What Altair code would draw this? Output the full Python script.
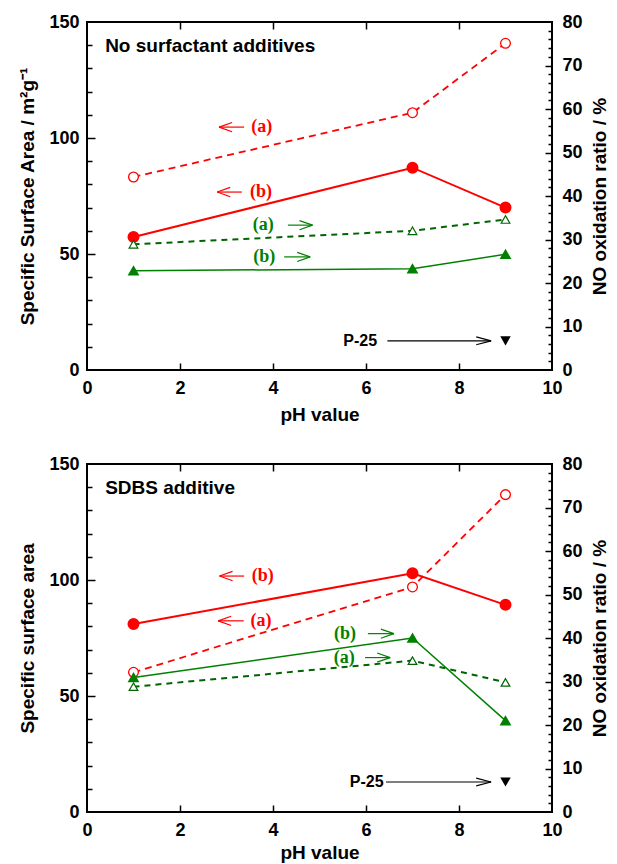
import altair as alt
import pandas as pd

# ---------------- data ----------------
ph = [1, 7, 9]

top_a_ssa = [83.2, 110.9, 140.8]
top_b_ssa = [57.3, 87.2, 70.0]
top_a_no = [28.9, 32.0, 34.6]
top_b_no = [22.8, 23.3, 26.6]
top_p25 = 6.7

bot_a_ssa = [60.2, 97.0, 136.8]
bot_b_ssa = [81.0, 102.9, 89.3]
bot_a_no = [28.8, 34.8, 29.8]
bot_b_no = [30.9, 40.0, 21.0]
bot_p25 = 6.9

x_ticks = [0, 2, 4, 6, 8, 10]
left_ticks = [0, 50, 100, 150]
right_ticks = [0, 10, 20, 30, 40, 50, 60, 70, 80]

# annotation positions (label, x, y)
top_red_notes = [("(a)", 3.76, 104.7), ("(b)", 3.74, 76.7)]
top_red_arrows = [(2.84, 3.38, 104.7), (2.80, 3.33, 76.7)]      # tip, tail, y
top_green_notes = [("(a)", 3.79, 33.3), ("(b)", 3.81, 26.0)]
top_green_arrows = [(4.85, 4.32, 33.3), (4.80, 4.24, 26.0)]
top_p25_note = (6.24, 6.46, 8.69)

bot_red_notes = [("(b)", 3.78, 101.7), ("(a)", 3.74, 82.4)]
bot_red_arrows = [(2.85, 3.38, 101.7), (2.82, 3.37, 82.4)]
bot_green_notes = [("(b)", 5.55, 41.0), ("(a)", 5.53, 35.5)]
bot_green_arrows = [(6.60, 6.04, 41.0), (6.52, 5.98, 35.5)]
bot_p25_note = (6.38, 6.43, 8.69)

RED = "#ff0000"
GREEN = "#008000"
DGREEN = "#006400"
SANS = "Liberation Sans"
SERIF = "Liberation Serif"

W, H = 465, 348
XS = alt.Scale(domain=[0, 10], nice=False, zero=False)
LS = alt.Scale(domain=[0, 150], nice=False, zero=False)
RS = alt.Scale(domain=[0, 80], nice=False, zero=False)


def ax_ticks(orient, values, size):
    return alt.Axis(orient=orient, values=values, labels=False, domain=False,
                    ticks=True, tickSize=size, offset=-size, tickWidth=1.5,
                    tickColor="black", grid=False, title=None)


def series(vals):
    return pd.DataFrame({"ph": ph, "v": vals})


def line(vals, scale, color, width, dash=None):
    kw = dict(color=color, strokeWidth=width)
    if dash:
        kw["strokeDash"] = dash
    return alt.Chart(series(vals)).mark_line(**kw).encode(
        x=alt.X("ph:Q", scale=XS, axis=None),
        y=alt.Y("v:Q", scale=scale, axis=None))


def points(vals, scale, shape, size, fill, stroke, sw=1.5):
    return alt.Chart(series(vals)).mark_point(
        shape=shape, size=size, filled=True, fill=fill, stroke=stroke,
        strokeWidth=sw, opacity=1).encode(
        x=alt.X("ph:Q", scale=XS, axis=None),
        y=alt.Y("v:Q", scale=scale, axis=None))


def notes(items, scale, color, font, size, align="center"):
    df = pd.DataFrame(items, columns=["t", "x", "y"])
    return alt.Chart(df).mark_text(
        font=font, fontSize=size, fontWeight="bold", color=color,
        align=align, baseline="middle").encode(
        x=alt.X("x:Q", scale=XS, axis=None),
        y=alt.Y("y:Q", scale=scale, axis=None),
        text="t:N")


def arrows(items, scale, color, head_dx, head_dy, width=1.2):
    rows = []
    for tip, tail, y in items:
        d = head_dx if tail > tip else -head_dx
        rows.append({"x": tail, "x2": tip, "y": y, "y2": y})
        rows.append({"x": tip, "x2": tip + d, "y": y, "y2": y + head_dy})
        rows.append({"x": tip, "x2": tip + d, "y": y, "y2": y - head_dy})
    df = pd.DataFrame(rows)
    return alt.Chart(df).mark_rule(color=color, strokeWidth=width).encode(
        x=alt.X("x:Q", scale=XS, axis=None), x2="x2:Q",
        y=alt.Y("y:Q", scale=scale, axis=None), y2="y2:Q")


def axis_layer(scale, vals, axis_x=None, axis_y=None):
    return alt.Chart(series(vals)).mark_point(opacity=0).encode(
        x=alt.X("ph:Q", scale=XS, axis=axis_x),
        y=alt.Y("v:Q", scale=scale, axis=axis_y))


def panel(title, ylabel, a_ssa, b_ssa, a_no, b_no, p25,
          red_notes, red_arrows, green_notes, green_arrows, p25_note, xtp):
    left_main = alt.Axis(orient="left", values=left_ticks, ticks=False, domain=False,
                         labelPadding=8, title=ylabel, titlePadding=11, grid=False)
    right_main = alt.Axis(orient="right", values=right_ticks, ticks=False, domain=False,
                          labelPadding=10, title="NO oxidation ratio / %",
                          titleAngle=270, titleBaseline="top", titlePadding=8, grid=False)
    x_main = alt.Axis(orient="bottom", values=x_ticks, ticks=False, domain=False,
                      labelPadding=9, labelFlush=False, title="pH value",
                      titlePadding=xtp, grid=False, format="d")
    left_minor = [v for v in range(10, 150, 10) if v % 50]
    right_minor = [v for v in range(2, 80, 2) if v % 10]

    p25_text = pd.DataFrame({"t": ["P-25"], "x": [p25_note[0]], "y": [p25]})
    p25_pt = pd.DataFrame({"ph": [9], "v": [p25]})

    layers = [
        axis_layer(LS, a_ssa, axis_x=x_main, axis_y=left_main),
        axis_layer(LS, a_ssa, axis_y=ax_ticks("left", [50, 100], 8)),
        axis_layer(LS, a_ssa, axis_y=ax_ticks("left", left_minor, 5)),
        axis_layer(RS, a_no, axis_y=right_main),
        axis_layer(RS, a_no, axis_y=ax_ticks("right", [10, 20, 30, 40, 50, 60, 70], 7)),
        axis_layer(RS, a_no, axis_y=ax_ticks("right", right_minor, 4)),
        axis_layer(LS, a_ssa, axis_x=ax_ticks("bottom", [2, 4, 6, 8], 7)),
        axis_layer(LS, a_ssa, axis_x=ax_ticks("top", [2, 4, 6, 8], 7)),
        # red: specific surface area (left axis)
        line(a_ssa, LS, RED, 1.8, [7, 5]),
        line(b_ssa, LS, RED, 2),
        points(a_ssa, LS, "circle", 95, "white", RED, 1.3),
        points(b_ssa, LS, "circle", 110, RED, RED),
        notes(red_notes, LS, RED, SERIF, 18),
        arrows(red_arrows, LS, RED, 0.28, 2.0),
        # green: NO oxidation ratio (right axis)
        line(a_no, RS, DGREEN, 2, [6, 5]),
        line(b_no, RS, GREEN, 1.5),
        points(a_no, RS, "triangle-up", 75, "white", DGREEN, 1.2),
        points(b_no, RS, "triangle-up", 85, GREEN, GREEN),
        notes(green_notes, RS, GREEN, SERIF, 18),
        arrows(green_arrows, RS, GREEN, 0.28, 1.05),
        # P-25 reference
        alt.Chart(p25_text).mark_text(font=SANS, fontSize=16, fontWeight="bold",
                                      color="black", align="right", baseline="middle").encode(
            x=alt.X("x:Q", scale=XS, axis=None),
            y=alt.Y("y:Q", scale=RS, axis=None), text="t:N"),
        arrows([(p25_note[2], p25_note[1], p25)], RS, "black", 0.32, 0.9),
        alt.Chart(p25_pt).mark_point(shape="triangle-down", size=110, filled=True,
                                     color="black", opacity=1).encode(
            x=alt.X("ph:Q", scale=XS, axis=None),
            y=alt.Y("v:Q", scale=RS, axis=None)),
        # panel title
        alt.Chart(pd.DataFrame({"t": [title], "x": [0.39], "y": [137.0]})).mark_text(
            font=SANS, fontSize=19, fontWeight="bold", color="black",
            align="left", baseline="alphabetic").encode(
            x=alt.X("x:Q", scale=XS, axis=None),
            y=alt.Y("y:Q", scale=LS, axis=None), text="t:N"),
    ]
    return alt.layer(*layers).resolve_scale(y="independent").resolve_axis(
        x="independent", y="independent").properties(width=W, height=H)


top = panel("No surfactant additives", "Specific Surface Area / m\u00b2g\u207b\u00b9",
            top_a_ssa, top_b_ssa, top_a_no, top_b_no, top_p25,
            top_red_notes, top_red_arrows, top_green_notes, top_green_arrows, top_p25_note, 8)
bottom = panel("SDBS additive", "Specific surface area",
               bot_a_ssa, bot_b_ssa, bot_a_no, bot_b_no, bot_p25,
               bot_red_notes, bot_red_arrows, bot_green_notes, bot_green_arrows, bot_p25_note, 4)

chart = alt.vconcat(top, bottom, spacing=29).properties(
    padding={"left": 17, "top": 12, "right": 5, "bottom": 2},
    background="white",
).configure_view(stroke="black", strokeWidth=2).configure_axis(
    labelFont=SANS, labelFontSize=18, labelFontWeight="bold", labelColor="black",
    titleFont=SANS, titleFontSize=19, titleFontWeight="bold", titleColor="black",
    grid=False)

chart.save("out.html", embed_options={"renderer": "svg", "actions": False})
